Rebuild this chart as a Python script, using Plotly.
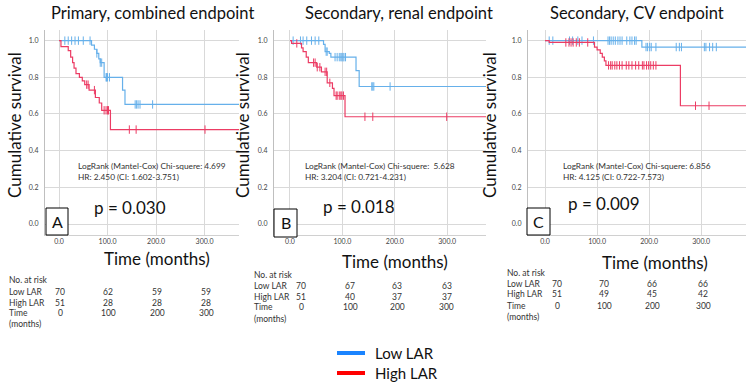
import plotly.graph_objects as go
import numpy as np

W, H = 746, 388
FONT = "Lato"

# ---------------- data ----------------
titles = ["Primary, combined endpoint", "Secondary, renal endpoint", "Secondary, CV endpoint"]
letters = ["A", "B", "C"]
p_values = ["p = 0.030", "p = 0.018", "p = 0.009"]
logrank = ["LogRank (Mantel-Cox) Chi-squere: 4.699",
           "LogRank (Mantel-Cox) Chi-squere:  5.628",
           "LogRank (Mantel-Cox) Chi-squere: 6.856"]
hr_text = ["HR: 2.450 (CI: 1.602-3.751)",
           "HR: 3.204 (CI: 0.721-4.231)",
           "HR: 4.125 (CI: 0.722-7.573)"]

risk_times = [0, 100, 200, 300]
risk_low = [[70, 62, 59, 59], [70, 67, 63, 63], [70, 70, 66, 66]]
risk_high = [[51, 28, 28, 28], [51, 40, 37, 37], [51, 49, 45, 42]]

# Kaplan-Meier steps (time, survival) and censor times
low_t_A = [0, 67, 73, 78, 82, 85, 93, 131, 136, 380]
low_s_A = [1, 0.976, 0.953, 0.93, 0.90, 0.88, 0.80, 0.73, 0.652, 0.652]
low_c_A = [12, 19, 26, 33, 40, 50, 64, 78, 85, 88, 97, 98, 100, 104, 157, 160, 163, 167, 193]
high_t_A = [0, 4, 19, 24, 28, 31, 35, 42, 48, 53, 62, 75, 83, 88, 106, 380]
high_s_A = [1, 0.967, 0.945, 0.91, 0.88, 0.85, 0.82, 0.80, 0.78, 0.76, 0.73, 0.69, 0.66, 0.62, 0.515, 0.515]
high_c_A = [57, 60, 73, 93, 97, 100, 102, 145, 159, 301]

low_t_B = [0, 64, 67, 75, 78, 126, 132, 380]
low_s_B = [1, 0.98, 0.94, 0.93, 0.91, 0.836, 0.75, 0.75]
low_c_B = [6, 20, 25, 32, 41, 48, 55, 69, 71, 86, 90, 94, 97, 99, 101, 103, 106, 156, 158, 160, 191]
high_t_B = [0, 3, 22, 25, 31, 35, 51, 60, 71, 81, 84, 105, 380]
high_s_B = [1, 0.985, 0.96, 0.94, 0.91, 0.88, 0.855, 0.83, 0.77, 0.74, 0.70, 0.585, 0.585]
high_c_B = [13, 45, 48, 52, 57, 67, 70, 76, 88, 90, 94, 97, 99, 102, 143, 158, 299]

low_t_C = [0, 186, 390]
low_s_C = [1, 0.965, 0.965]
low_c_C = [8, 15, 47, 53, 63, 71, 93, 121, 124, 127, 131, 135, 140, 144, 148, 157, 163, 167, 172, 175,
           194, 197, 201, 204, 213, 252, 258, 262, 306, 309, 316, 322, 329]
high_t_C = [0, 8, 95, 100, 106, 110, 114, 117, 260, 390]
high_s_C = [1, 0.99, 0.965, 0.95, 0.93, 0.91, 0.89, 0.865, 0.645, 0.645]
high_c_C = [40, 46, 50, 54, 60, 66, 82, 122, 126, 129, 134, 138, 143, 148, 156, 161, 167, 174, 180, 187,
            190, 195, 199, 203, 208, 213, 289, 315]

panels = [
    (low_t_A, low_s_A, low_c_A, high_t_A, high_s_A, high_c_A),
    (low_t_B, low_s_B, low_c_B, high_t_B, high_s_B, high_c_B),
    (low_t_C, low_s_C, low_c_C, high_t_C, high_s_C, high_c_C),
]

LOW_COL = "#66b0ea"
HIGH_COL = "#ec3c64"
LEG_LOW = "#1a84ff"
LEG_HIGH = "#ff0000"

# ---------------- layout geometry (pixels) ----------------
px = lambda x: x / W
py = lambda y: 1 - y / H

areas = [(45, 239, [-28.9, 371.1]), (274, 486, [-30.5, 374.0]), (528, 746, [-32.7, 386.0])]
Y_TOP, Y_BOT = 30, 235
y_range = [-0.06, 1.058]

title_pos = [(152, 13), (399, 13), (637, 13)]
ylab_x = [15, 243, 490]
ylab_y = 125
xlab_pos = [(157, 258), (395, 261), (655, 262)]
box_pos = [(46, 208, 68, 235), (274, 209, 297, 237), (527, 208, 550, 235)]
p_pos = [(92, 207), (321, 206), (566, 203)]
lr_pos = [(76, 166), (303, 166), (561, 166)]
table_label_x = [7, 252, 505]
table_row_y = [[280, 292, 303, 313, 324], [275, 286, 297, 307, 319], [273, 284, 294, 306, 317]]
table_col_x = [[60, 108, 157, 206], [301, 350, 397, 447], [557, 604, 652, 703]]

fig = go.Figure()
annotations = []
shapes = []

def surv_at(ts, ss, t):
    idx = np.searchsorted(np.array(ts), t, side="right") - 1
    return ss[max(idx, 0)]

for i, (lt, ls, lc, ht, hs, hc) in enumerate(panels):
    xa = "x" if i == 0 else f"x{i+1}"
    ya = "y" if i == 0 else f"y{i+1}"
    for ts, ss, cs, col in [(lt, ls, lc, LOW_COL), (ht, hs, hc, HIGH_COL)]:
        fig.add_trace(go.Scatter(x=ts, y=ss, mode="lines", line=dict(color=col, width=1.2, shape="hv"),
                                 xaxis=xa, yaxis=ya, showlegend=False, hoverinfo="skip"))
        fig.add_trace(go.Scatter(x=cs, y=[surv_at(ts, ss, c) for c in cs], mode="markers",
                                 marker=dict(symbol="line-ns-open", size=6, color=col,
                                             line=dict(color=col, width=1)),
                                 xaxis=xa, yaxis=ya, showlegend=False, hoverinfo="skip"))

    l, r, xr = areas[i]
    axis_common = dict(showgrid=True, gridcolor="#d9d9d9", gridwidth=1, zeroline=False,
                       tickfont=dict(size=7, color="#444", family=FONT), ticks="")
    xkey = "xaxis" if i == 0 else f"xaxis{i+1}"
    ykey = "yaxis" if i == 0 else f"yaxis{i+1}"
    fig.layout[xkey] = dict(domain=[px(l), px(r)], range=xr, anchor=ya,
                            tickvals=risk_times, ticktext=[f"{v:.1f}" for v in risk_times],
                            showline=True, linecolor="#d0d0d0", linewidth=1, **axis_common)
    fig.layout[ykey] = dict(domain=[py(Y_BOT), py(Y_TOP)], range=y_range, anchor=xa,
                            tickvals=[0, 0.2, 0.4, 0.6, 0.8, 1.0],
                            ticktext=["0.0", "0.2", "0.4", "0.6", "0.8", "1.0"],
                            showline=True, linecolor="#bfbfbf", linewidth=1, ticklabelstandoff=4,
                            **axis_common)

    tx, ty = title_pos[i]
    annotations.append(dict(text=titles[i], x=px(tx), y=py(ty), xref="paper", yref="paper",
                            showarrow=False, xanchor="center", yanchor="middle",
                            font=dict(size=16.5, color="#111", family=FONT)))
    annotations.append(dict(text="Cumulative survival", x=px(ylab_x[i]), y=py(ylab_y), xref="paper",
                            yref="paper", showarrow=False, textangle=-90, xanchor="center",
                            yanchor="middle", font=dict(size=17, color="#111", family=FONT)))
    lx, ly = xlab_pos[i]
    annotations.append(dict(text="Time (months)", x=px(lx), y=py(ly), xref="paper", yref="paper",
                            showarrow=False, xanchor="center", yanchor="middle",
                            font=dict(size=17, color="#111", family=FONT)))
    bx0, by0, bx1, by1 = box_pos[i]
    shapes.append(dict(type="rect", xref="paper", yref="paper", x0=px(bx0), x1=px(bx1),
                       y0=py(by1), y1=py(by0), line=dict(color="#000", width=1), fillcolor="white"))
    annotations.append(dict(text=letters[i], x=px((bx0 + bx1) / 2), y=py((by0 + by1) / 2), xref="paper",
                            yref="paper", showarrow=False, xanchor="center", yanchor="middle",
                            font=dict(size=16, color="#111", family=FONT)))
    ppx, ppy = p_pos[i]
    annotations.append(dict(text=p_values[i], x=px(ppx), y=py(ppy), xref="paper", yref="paper",
                            showarrow=False, xanchor="left", yanchor="middle",
                            font=dict(size=17, color="#111", family=FONT)))
    lrx, lry = lr_pos[i]
    for k, t in enumerate([logrank[i], hr_text[i]]):
        annotations.append(dict(text=t, x=px(lrx), y=py(lry + 11 * k), xref="paper", yref="paper",
                                showarrow=False, xanchor="left", yanchor="middle",
                                font=dict(size=8.3, color="#333", family=FONT)))
    rows = table_row_y[i]
    labels = ["No. at risk", "Low LAR", "High LAR", "Time", "(months)"]
    for k, lab in enumerate(labels):
        annotations.append(dict(text=lab, x=px(table_label_x[i]), y=py(rows[k]), xref="paper",
                                yref="paper", showarrow=False, xanchor="left", yanchor="middle",
                                font=dict(size=8.5, color="#333", family=FONT)))
    for j in range(4):
        for k, vals in [(1, risk_low[i]), (2, risk_high[i]), (3, risk_times)]:
            annotations.append(dict(text=str(vals[j]), x=px(table_col_x[i][j]), y=py(rows[k]),
                                    xref="paper", yref="paper", showarrow=False, xanchor="center",
                                    yanchor="middle", font=dict(size=8.5, color="#333", family=FONT)))

for lab, col, ly in [("Low LAR", LEG_LOW, 353), ("High LAR", LEG_HIGH, 373)]:
    shapes.append(dict(type="line", xref="paper", yref="paper", x0=px(337), x1=px(365), y0=py(ly),
                       y1=py(ly), line=dict(color=col, width=4)))
    annotations.append(dict(text=lab, x=px(373), y=py(ly), xref="paper", yref="paper", showarrow=False,
                            xanchor="left", yanchor="middle", font=dict(size=15, color="#111", family=FONT)))

fig.update_layout(width=W, height=H, margin=dict(l=0, r=0, t=0, b=0), paper_bgcolor="white",
                  plot_bgcolor="white", annotations=annotations, shapes=shapes, showlegend=False)

fig.write_html("out.html")
